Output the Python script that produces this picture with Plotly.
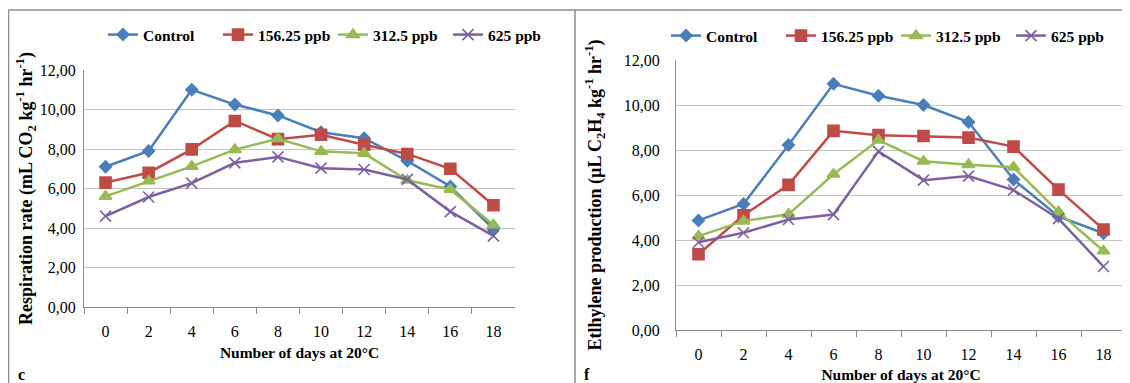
"""Respiration rate (c) and ethylene production (f) of fruit stored at 20°C."""

import plotly.graph_objects as go

DAYS = ["0", "2", "4", "6", "8", "10", "12", "14", "16", "18"]
SERIES = ["Control", "156.25 ppb", "312.5 ppb", "625 ppb"]

# respiration rate, mL CO2 kg-1 hr-1
resp_control = [7.1, 7.9, 11.0, 10.25, 9.7, 8.85, 8.55, 7.4, 6.1, 3.95]
resp_156 = [6.3, 6.8, 7.98, 9.42, 8.5, 8.72, 8.22, 7.75, 7.0, 5.15]
resp_312 = [5.6, 6.38, 7.12, 7.97, 8.52, 7.88, 7.78, 6.42, 5.95, 4.15]
resp_625 = [4.6, 5.57, 6.27, 7.3, 7.6, 7.03, 6.96, 6.46, 4.83, 3.6]

# ethylene production, uL C2H4 kg-1 hr-1
eth_control = [4.87, 5.6, 8.22, 10.94, 10.41, 10.0, 9.24, 6.69, 5.05, 4.3]
eth_156 = [3.37, 5.1, 6.45, 8.85, 8.66, 8.62, 8.55, 8.15, 6.24, 4.47]
eth_312 = [4.17, 4.84, 5.14, 6.92, 8.44, 7.5, 7.35, 7.23, 5.25, 3.51]
eth_625 = [3.9, 4.32, 4.91, 5.13, 7.94, 6.66, 6.84, 6.22, 4.95, 2.82]

COLORS = ["#4A7EBB", "#BE4B48", "#98B954", "#7D60A0"]
SYMBOLS = ["diamond", "square", "triangle-up", "x-thin"]
SIZES = [9, 11, 11, 11]

SERIF = "Liberation Serif"
GRID = "#C4C4C4"
AXIS = "#8C8C8C"

# the page body adds an 8px margin, so the figure is a bit smaller than the window
PAD = 8
W, H = 1130 - PAD, 383 - PAD


def fx(x):
    return (x - PAD) / W


def fy(y):
    return 1 - (y - PAD) / H


def add_panel(fig, values, xaxis, yaxis, legend):
    for name, ys, color, symbol, size in zip(SERIES, values, COLORS, SYMBOLS, SIZES):
        fig.add_trace(go.Scatter(
            x=DAYS,
            y=ys,
            name=name,
            mode="lines+markers",
            line=dict(color=color, width=2.5),
            marker=dict(symbol=symbol, size=size, color=color,
                        line=dict(color=color, width=1.6)),
            xaxis=xaxis,
            yaxis=yaxis,
            legend=legend,
        ))


def x_axis(left, right, anchor):
    return dict(
        domain=[fx(left), fx(right)], anchor=anchor, type="category", automargin=False,
        range=[-0.5, len(DAYS) - 0.5],
        showline=True, linecolor=AXIS, linewidth=1,
        ticks="outside", tickson="boundaries", ticklen=6, tickcolor=AXIS,
        ticklabelstandoff=10,
        showgrid=False,
        tickfont=dict(family=SERIF, size=16, color="black"),
        title=dict(text="<b>Number of days at 20°C</b>", standoff=7,
                   font=dict(family=SERIF, size=15.5, color="black")),
    )


def y_axis(bottom, top, anchor, title, label_gap, title_gap):
    return dict(
        domain=[fy(bottom), fy(top)], anchor=anchor, range=[0, 12], dtick=2,
        tickformat=".2f", automargin=False,
        showline=True, linecolor=AXIS, linewidth=1,
        ticks="", ticklabelstandoff=label_gap,
        showgrid=True, gridcolor=GRID, gridwidth=1, zeroline=False,
        tickfont=dict(family=SERIF, size=16, color="black"),
        title=dict(text=title, standoff=title_gap,
                   font=dict(family=SERIF, size=18, color="black")),
    )


def legend_box(x, y):
    return dict(
        orientation="h", x=fx(x), y=fy(y), xanchor="left", yanchor="top",
        font=dict(family=SERIF, size=15.5, color="black", weight="bold"),
        bgcolor="rgba(0,0,0,0)", entrywidth=70, entrywidthmode="pixels",
        tracegroupgap=0,
    )


fig = go.Figure()
add_panel(fig, [resp_control, resp_156, resp_312, resp_625], "x", "y", "legend")
add_panel(fig, [eth_control, eth_156, eth_312, eth_625], "x2", "y2", "legend2")

fig.update_layout(
    width=W,
    height=H,
    margin=dict(l=0, r=0, t=0, b=0),
    plot_bgcolor="white",
    paper_bgcolor="white",
    separators=",.",
    showlegend=True,
    font=dict(family=SERIF, color="black"),
    xaxis=x_axis(84, 515, "y"),
    yaxis=y_axis(307, 70, "x",
                 "<b>Respiration rate (mL CO<sub>2</sub> kg<sup>-1</sup> hr<sup>-1</sup>)</b>",
                 4, 2),
    xaxis2=x_axis(676, 1126, "y2"),
    yaxis2=y_axis(330, 60, "x2",
                  "<b>Etlhylene production (µL C<sub>2</sub>H<sub>4</sub> kg<sup>-1</sup> hr<sup>-1</sup>)</b>",
                  12, 17),
    legend=legend_box(103, 18),
    legend2=legend_box(666, 19),
)

# panel frames
frame = dict(color="#8C8C8C", width=1.5)
fig.add_shape(type="line", xref="paper", yref="paper", x0=fx(8.5), x1=1, y0=fy(10), y1=fy(10), line=frame)
fig.add_shape(type="line", xref="paper", yref="paper", x0=fx(8.5), x1=fx(8.5), y0=0, y1=fy(10), line=frame)
fig.add_shape(type="line", xref="paper", yref="paper", x0=fx(575), x1=fx(575), y0=0, y1=fy(10), line=frame)

# panel letters
for letter, px_x in [("c", 21), ("f", 587)]:
    fig.add_annotation(text=f"<b>{letter}</b>", xref="paper", yref="paper",
                       x=fx(px_x), y=fy(374), showarrow=False,
                       xanchor="center", yanchor="middle",
                       font=dict(family=SERIF, size=16, color="black"))

fig.write_html("out.html")
